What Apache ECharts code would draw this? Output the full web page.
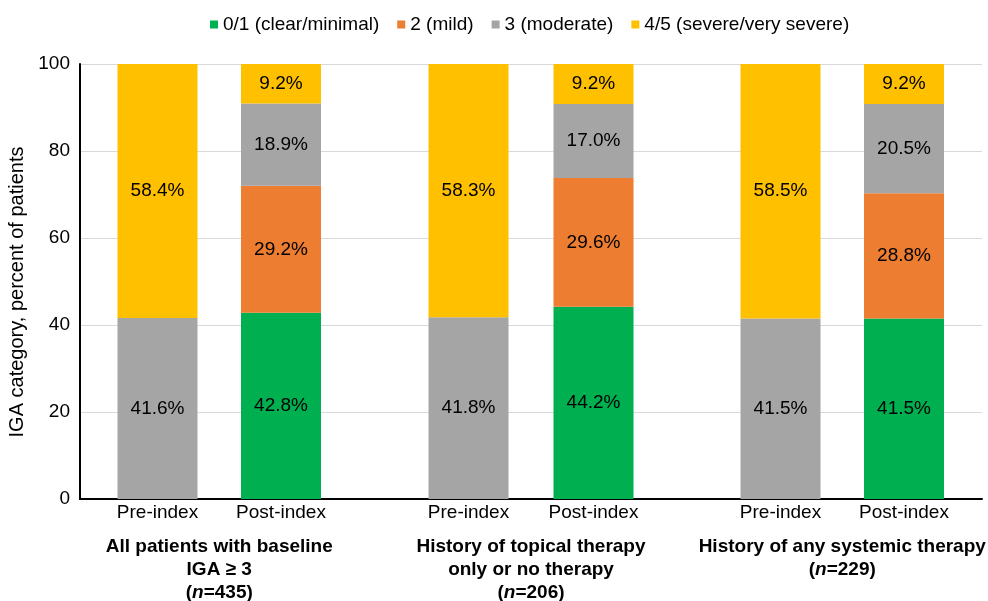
<!DOCTYPE html>
<html>
<head>
<meta charset="utf-8">
<script src="https://cdn.jsdelivr.net/npm/echarts@6/dist/echarts.min.js"></script>
<style>html,body{margin:0;padding:0;background:#fff}#c{width:988px;height:601px}</style>
</head>
<body>
<div id="c"></div>
<script>
var categories = ['Pre-index', 'Post-index'];
var seriesNames = ['0/1 (clear/minimal)', '2 (mild)', '3 (moderate)', '4/5 (severe/very severe)'];
var colors = ['#00B050', '#ED7D31', '#A5A5A5', '#FFC000'];
var yTicks = [0, 20, 40, 60, 80, 100];
// values per group: [pre, post] for each IGA category
var groupAll = { clear: [0, 42.8], mild: [0, 29.2], moderate: [41.6, 18.9], severe: [58.4, 9.2] };
var groupTopical = { clear: [0, 44.2], mild: [0, 29.6], moderate: [41.8, 17.0], severe: [58.3, 9.2] };
var groupSystemic = { clear: [0, 41.5], mild: [0, 28.8], moderate: [41.5, 20.5], severe: [58.5, 9.2] };
var groupLabels = [
  '{b|All patients with baseline}\n{b|IGA \u2265 3}\n{b|(}{i|n}{b|=435)}',
  '{b|History of topical therapy}\n{b|only or no therapy}\n{b|(}{i|n}{b|=206)}',
  '{b|History of any systemic therapy}\n{b|(}{i|n}{b|=229)}'
];
var groups = [groupAll, groupTopical, groupSystemic];
var keys = ['clear', 'mild', 'moderate', 'severe'];

var FONT = 'Liberation Sans, Arial, sans-serif';
var TOP = 64, BOTTOM = 601 - 499;
var barGrids = [
  { left: 95.75, width: 247 },
  { left: 406, width: 250 },
  { left: 718.75, width: 247 }
];

var grid = [{ left: 80, right: 6, top: TOP, bottom: BOTTOM, outerBoundsMode: 'none', containLabel: false }];
barGrids.forEach(function (g) {
  grid.push({ left: g.left, width: g.width, top: TOP, bottom: BOTTOM, outerBoundsMode: 'none', containLabel: false });
});

var xAxis = [{
  type: 'category', gridIndex: 0, data: [''],
  axisLine: { show: true, lineStyle: { color: '#000', width: 2 } },
  axisTick: { show: false }, axisLabel: { show: false }
}];
var yAxis = [{
  type: 'value', gridIndex: 0, min: 0, max: 100, interval: 20,
  name: 'IGA category, percent of patients', nameLocation: 'middle', nameGap: 47,
  nameTextStyle: { fontFamily: FONT, fontSize: 20, color: '#000', padding: [0, 21, 0, 0] },
  axisLine: { show: true, lineStyle: { color: '#000', width: 2 } },
  axisTick: { show: false },
  axisLabel: { fontFamily: FONT, fontSize: 19, color: '#000', margin: 10 },
  splitLine: { show: true, lineStyle: { color: '#D9D9D9', width: 1 } }
}];
var series = [];
groups.forEach(function (grp, gi) {
  var idx = gi + 1;
  xAxis.push({
    type: 'category', gridIndex: idx, data: categories,
    axisLine: { show: false }, axisTick: { show: false },
    axisLabel: { fontFamily: FONT, fontSize: 19, color: '#000', margin: 4 },
    name: groupLabels[gi], nameLocation: 'middle', nameGap: 36,
    nameTextStyle: {
      align: 'center',
      rich: {
        b: { fontFamily: FONT, fontSize: 19, fontWeight: 'bold', color: '#000', lineHeight: 23, align: 'center' },
        i: { fontFamily: FONT, fontSize: 19, fontWeight: 'bold', fontStyle: 'italic', color: '#000', lineHeight: 23 }
      }
    }
  });
  yAxis.push({ type: 'value', gridIndex: idx, min: 0, max: 100, show: false, splitLine: { show: false } });
  keys.forEach(function (k, ki) {
    series.push({
      type: 'bar', name: seriesNames[ki], xAxisIndex: idx, yAxisIndex: idx,
      stack: 'g' + idx, barWidth: 80, data: grp[k],
      itemStyle: { color: colors[ki] },
      label: {
        show: true, position: 'inside', fontFamily: FONT, fontSize: 19, color: '#000',
        formatter: function (p) { return p.value ? p.value.toFixed(1) + '%' : ''; }
      }
    });
  });
});

var chart = echarts.init(document.getElementById('c'));
chart.setOption({
  animation: false,
  legend: {
    data: seriesNames, top: 10, left: 205, icon: 'rect', itemWidth: 8, itemHeight: 8, itemGap: 18,
    textStyle: { fontFamily: FONT, fontSize: 19, color: '#000', padding: [0, 0, 0, 0] }
  },
  grid: grid, xAxis: xAxis, yAxis: yAxis, series: series
});
</script>
</body>
</html>
